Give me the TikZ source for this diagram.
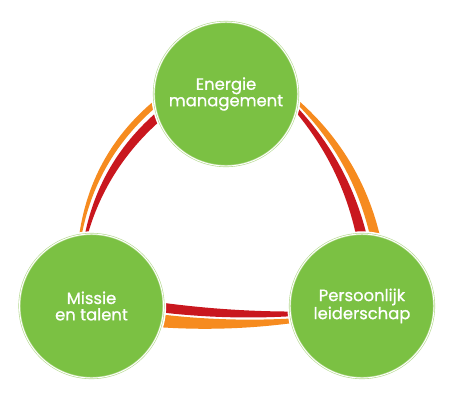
\documentclass[tikz,border=0pt]{standalone}
\usepackage{fontspec}
\setmainfont{Poppins}
\newfontfamily\bubblefont{Poppins}[FakeBold=0.9]
\usetikzlibrary{calc,backgrounds}
\definecolor{cgreen}{HTML}{7BC143}
\definecolor{cring}{HTML}{B5DA90}
\definecolor{corange}{HTML}{F68B1F}
\definecolor{cred}{HTML}{C9171E}
\tikzset{
  bubble/.style={circle, minimum size=108pt, inner sep=0pt, fill=cgreen,
    draw=cring, line width=0.45pt, double=white, double distance=0.7pt,
    preaction={draw=white, line width=4pt},
    text=white, align=center, font=\bubblefont\fontsize{12.3}{12.3}\selectfont},
  orangeband/.style={fill=corange},
  redband/.style={fill=cred}
}
\begin{document}
\begin{tikzpicture}[x=0.75pt,y=-0.75pt]
\useasboundingbox (0,0) rectangle (450,408);
\node[bubble] (E) at (226,94) {Energie\\management};
\node[bubble] (M) at (91.5,306) {Missie\\en talent};
\node[bubble] (P) at (362,306) {Persoonlijk\\leiderschap};
\begin{scope}[on background layer]
% left band
\coordinate (lo1) at (78,245); \coordinate (lq1) at (87.5,153); \coordinate (lb1) at (160,96);
\coordinate (lo2) at (80,245); \coordinate (lq2) at (93,158.1); \coordinate (lb2) at (162,102);
\coordinate (lo3) at (83,245); \coordinate (lq3) at (96.3,160.6); \coordinate (lb3) at (164,106);
\coordinate (lo4) at (85,245); \coordinate (lq4) at (103.7,167); \coordinate (lb4) at (168,114);
\fill[orangeband] (lo1) .. controls ($(lo1)!0.6667!(lq1)$) and ($(lb1)!0.6667!(lq1)$) .. (lb1)
  -- (lb2) .. controls ($(lb2)!0.6667!(lq2)$) and ($(lo2)!0.6667!(lq2)$) .. (lo2) -- cycle;
\fill[redband] (lo3) .. controls ($(lo3)!0.6667!(lq3)$) and ($(lb3)!0.6667!(lq3)$) .. (lb3)
  -- (lb4) .. controls ($(lb4)!0.6667!(lq4)$) and ($(lo4)!0.6667!(lq4)$) .. (lo4) -- cycle;
% right band
\coordinate (ra1) at (298,100); \coordinate (rq1) at (364.2,158.5); \coordinate (rb1) at (382,245);
\coordinate (ra2) at (297,104); \coordinate (rq2) at (355.7,163.2); \coordinate (rb2) at (372,245);
\coordinate (ra3) at (296,106); \coordinate (rq3) at (352,165.3); \coordinate (rb3) at (369,245);
\coordinate (ra4) at (294,110); \coordinate (rq4) at (344.1,168.9); \coordinate (rb4) at (358,245);
\fill[orangeband] (ra1) .. controls ($(ra1)!0.6667!(rq1)$) and ($(rb1)!0.6667!(rq1)$) .. (rb1)
  -- (rb2) .. controls ($(rb2)!0.6667!(rq2)$) and ($(ra2)!0.6667!(rq2)$) .. (ra2) -- cycle;
\fill[redband] (ra3) .. controls ($(ra3)!0.6667!(rq3)$) and ($(rb3)!0.6667!(rq3)$) .. (rb3)
  -- (rb4) .. controls ($(rb4)!0.6667!(rq4)$) and ($(ra4)!0.6667!(rq4)$) .. (ra4) -- cycle;
% bottom band
\coordinate (ba1) at (150,301); \coordinate (bq1) at (227.5,312.3); \coordinate (bb1) at (305,311.5);
\coordinate (ba2) at (150,311); \coordinate (bq2) at (227.5,321.2); \coordinate (bb2) at (305,315.3);
\coordinate (ba3) at (150,313); \coordinate (bq3) at (227.5,323.3); \coordinate (bb3) at (305,317.6);
\coordinate (ba4) at (150,326.5); \coordinate (bq4) at (227.5,332.9); \coordinate (bb4) at (305,321.3);
\fill[redband] (ba1) .. controls ($(ba1)!0.6667!(bq1)$) and ($(bb1)!0.6667!(bq1)$) .. (bb1)
  -- (bb2) .. controls ($(bb2)!0.6667!(bq2)$) and ($(ba2)!0.6667!(bq2)$) .. (ba2) -- cycle;
\fill[orangeband] (ba3) .. controls ($(ba3)!0.6667!(bq3)$) and ($(bb3)!0.6667!(bq3)$) .. (bb3)
  -- (bb4) .. controls ($(bb4)!0.6667!(bq4)$) and ($(ba4)!0.6667!(bq4)$) .. (ba4) -- cycle;
\end{scope}
\end{tikzpicture}
\end{document}
